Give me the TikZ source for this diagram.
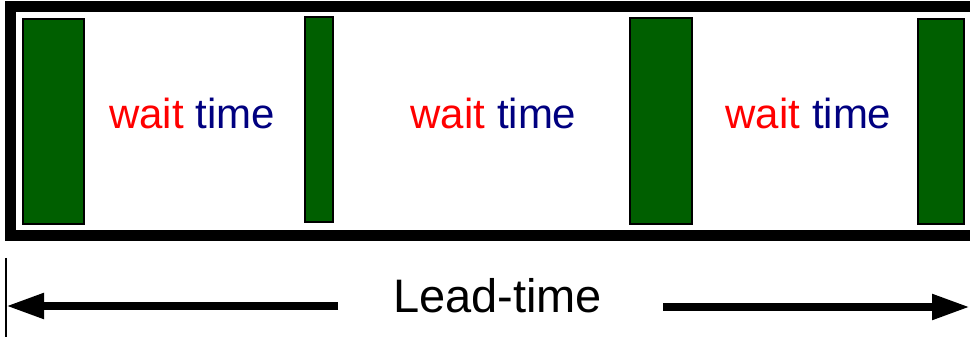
\documentclass[tikz,border=0pt]{standalone}
\usepackage{fontspec}
\setmainfont{Liberation Sans}
\usetikzlibrary{arrows.meta}
\definecolor{boxgreen}{RGB}{0,95,0}
\definecolor{waitred}{RGB}{255,0,0}
\definecolor{timenavy}{RGB}{0,0,128}
\tikzset{
  stepbox/.style={draw=black, line width=2pt, fill=boxgreen, inner sep=0pt, minimum width=#1},
  waitlabel/.style={anchor=base, inner sep=0pt, font=\fontsize{42}{50}\selectfont},
  leadarrow/.style={line width=8pt, -{Triangle[length=38pt, width=24pt]}}
}
\begin{document}
\begin{tikzpicture}[x=1pt,y=1pt]
\useasboundingbox (0,0) rectangle (970,337);
\clip (0,0) rectangle (970,337);
% frame
\draw[line width=11pt] (10.5,330) rectangle (990,101.5);
% green boxes
\node[stepbox=61pt, minimum height=205pt] (b1) at (53.5,215.5) {};
\node[stepbox=28pt, minimum height=205pt] (b2) at (319,217.5) {};
\node[stepbox=62pt, minimum height=206pt] (b3) at (661,216) {};
\node[stepbox=46pt, minimum height=205pt] (b4) at (941,215.5) {};
% labels
\node[waitlabel] (w1) at (192,208) {\textcolor{waitred}{wait} \textcolor{timenavy}{time}};
\node[waitlabel] (w2) at (493.5,208) {\textcolor{waitred}{wait} \textcolor{timenavy}{time}};
\node[waitlabel] (w3) at (808.5,208) {\textcolor{waitred}{wait} \textcolor{timenavy}{time}};
% lead time
\node[anchor=base, inner sep=0pt, font=\fontsize{47}{56}\selectfont] (lt) at (497.5,24) {Lead-time};
\coordinate (tickTop) at (6,79);
\coordinate (tickBot) at (6,0);
\draw[line width=2pt] (tickTop) -- (tickBot);
\coordinate (lstart) at (338,31);
\coordinate (lend) at (6,31);
\coordinate (rstart) at (663,30);
\coordinate (rend) at (970,30);
\draw[leadarrow] (lstart) -- (lend);
\draw[leadarrow] (rstart) -- (rend);
\end{tikzpicture}
\end{document}
